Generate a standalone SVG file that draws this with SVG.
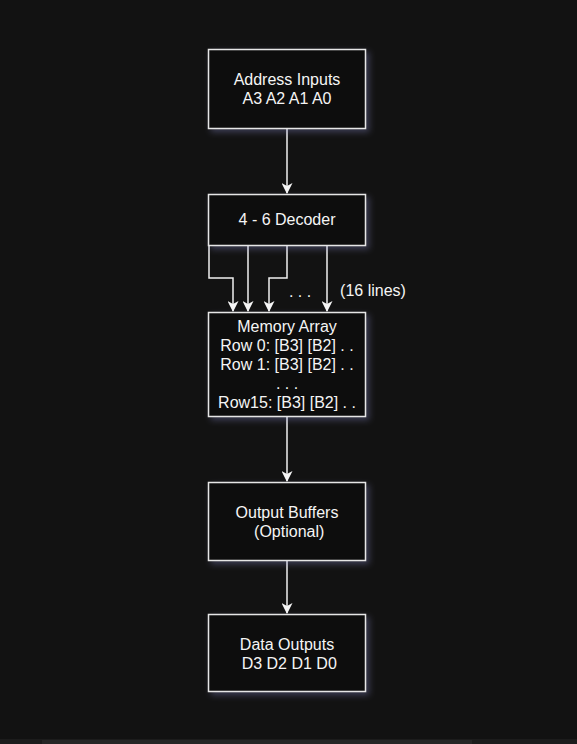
<svg xmlns="http://www.w3.org/2000/svg" width="577" height="744" viewBox="0 0 577 744">
<defs>
<style>
.box{fill:#111111;stroke:#e6e6e6;stroke-width:1.5;filter:url(#sh)}
.t{font-family:"Liberation Sans",Arial,sans-serif;font-size:16px;fill:#f5f5f5;text-anchor:middle}
.c{fill:none;stroke:#f0f0f0;stroke-width:1.5}
</style>
<filter id="sh" x="-20%" y="-20%" width="150%" height="150%">
<feDropShadow dx="3" dy="3" stdDeviation="3" flood-color="#8a8fd0" flood-opacity="0.35"/>
</filter>
<marker id="ah" markerWidth="11" markerHeight="11" refX="10" refY="5.5" orient="auto" markerUnits="userSpaceOnUse">
<path d="M0,0 L11,5.5 L0,11 L3,5.5 Z" fill="#f5f5f5"/>
</marker>
</defs>
<rect width="577" height="744" fill="#121212"/>
<rect x="0" y="739" width="577" height="5" fill="#1c1c1c"/>
<rect x="42" y="740" width="430" height="4" fill="#262626"/>
<g id="connectors">
<path class="c" d="M287,128 V193" marker-end="url(#ah)"/>
<path class="c" d="M209,246 V278 H233 V311" marker-end="url(#ah)"/>
<path class="c" d="M248,246 V311" marker-end="url(#ah)"/>
<path class="c" d="M287,246 V278 H269 V311" marker-end="url(#ah)"/>
<path class="c" d="M327,246 V311" marker-end="url(#ah)"/>
<path class="c" d="M287,417 V481" marker-end="url(#ah)"/>
<path class="c" d="M287,561 V613" marker-end="url(#ah)"/>
<text class="t" x="300" y="297" xml:space="preserve">. . .</text>
<text class="t" x="373" y="296">(16 lines)</text>
</g>
<g id="address">
<rect class="box" x="208.5" y="49.5" width="157" height="79"/>
<text class="t" x="287" y="85">Address Inputs</text>
<text class="t" x="287" y="104">A3 A2 A1 A0</text>
</g>
<g id="decoder">
<rect class="box" x="208.5" y="194.5" width="157" height="51"/>
<text class="t" x="287" y="225">4 - 6 Decoder</text>
</g>
<g id="memory">
<rect class="box" x="208.5" y="312.5" width="157" height="104"/>
<text class="t" x="287" y="332">Memory Array</text>
<text class="t" x="287" y="351">Row 0: [B3] [B2] . .</text>
<text class="t" x="287" y="370">Row 1: [B3] [B2] . .</text>
<text class="t" x="287" y="389" xml:space="preserve">. . .</text>
<text class="t" x="287" y="408">Row15: [B3] [B2] . .</text>
</g>
<g id="buffers">
<rect class="box" x="208.5" y="482.5" width="157" height="78"/>
<text class="t" x="287" y="518">Output Buffers</text>
<text class="t" x="287" y="537" xml:space="preserve"> (Optional)</text>
</g>
<g id="outputs">
<rect class="box" x="208.5" y="614.5" width="157" height="77"/>
<text class="t" x="287" y="650">Data Outputs</text>
<text class="t" x="287" y="669" xml:space="preserve"> D3 D2 D1 D0</text>
</g>
</svg>
